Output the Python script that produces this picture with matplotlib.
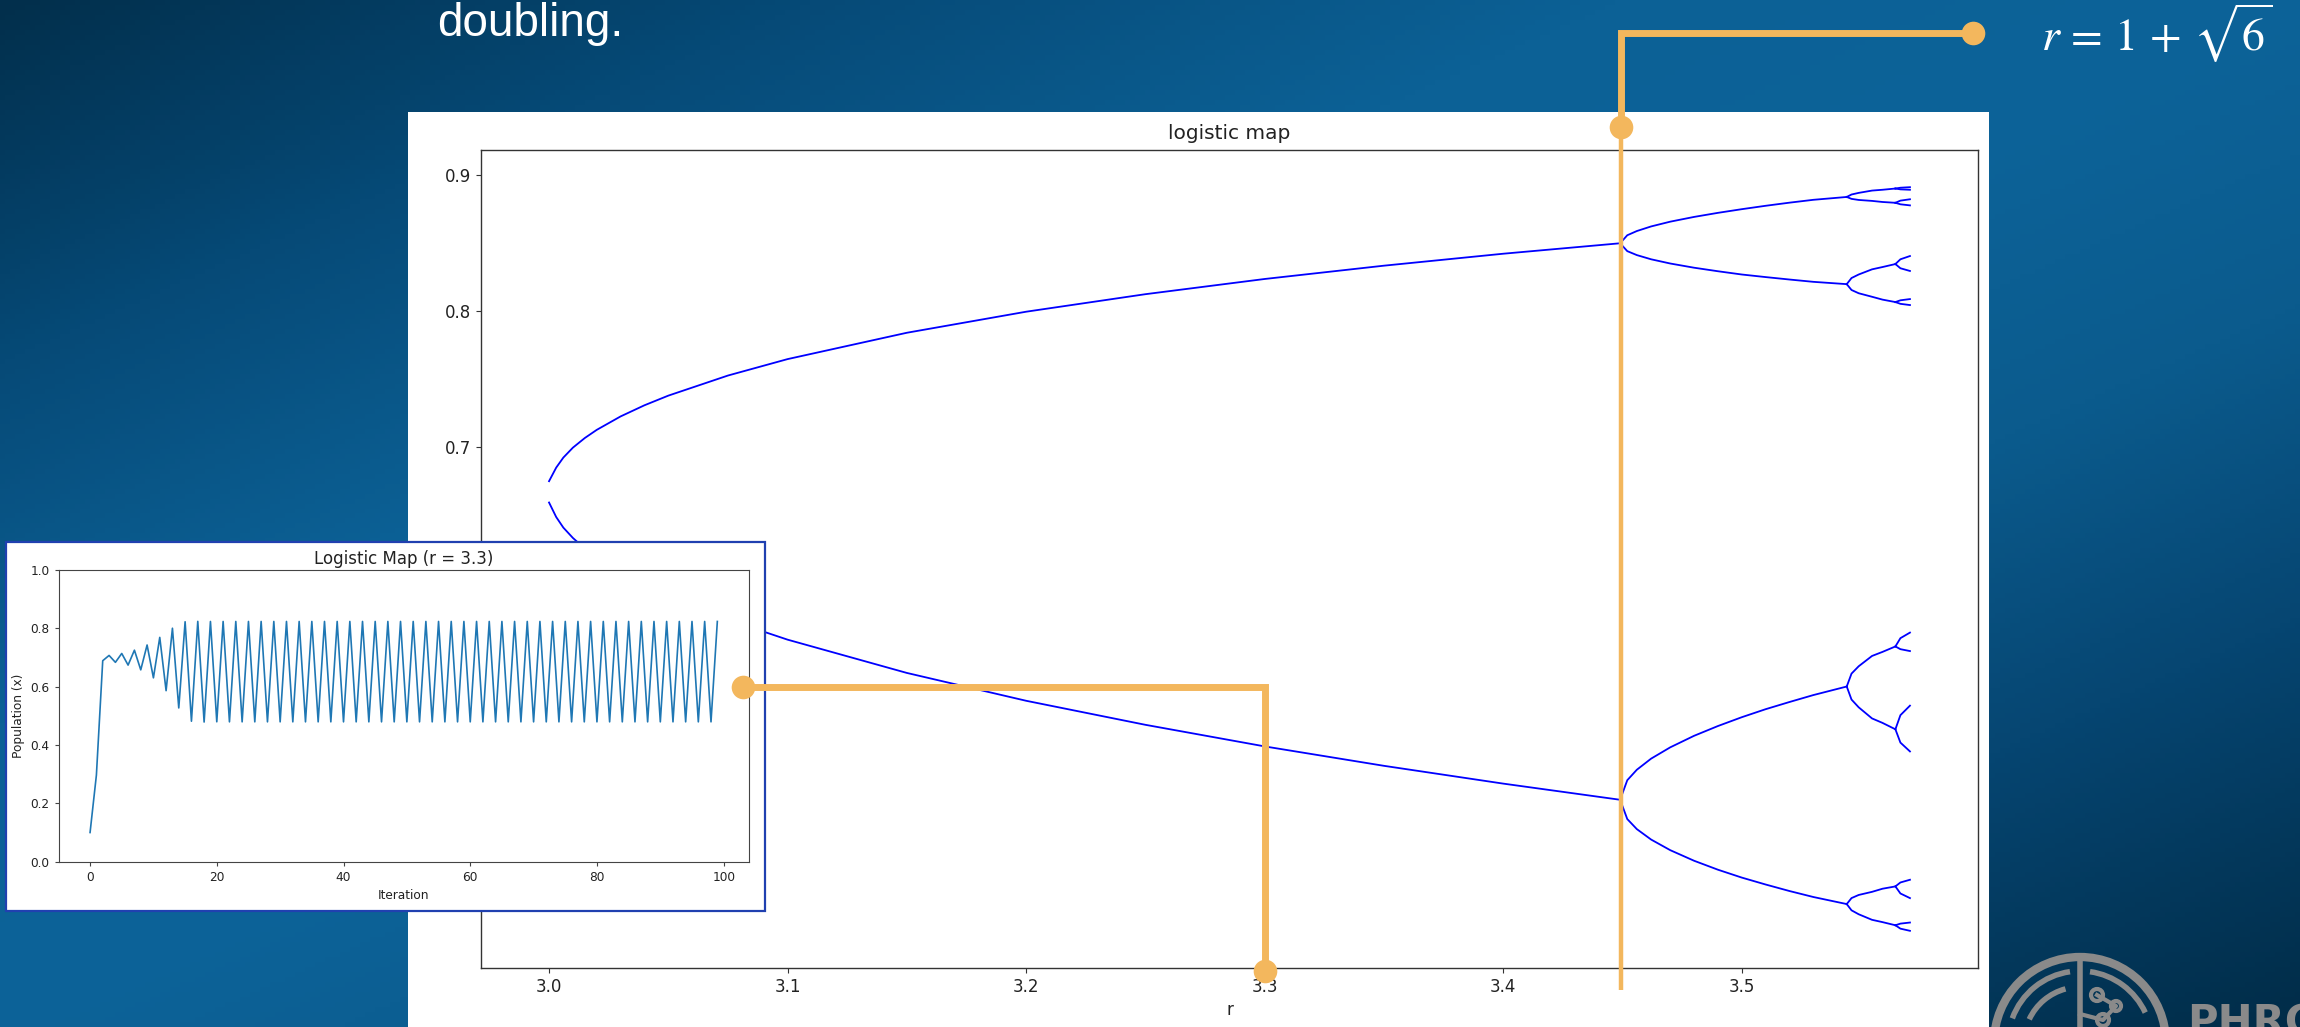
import numpy as np
import matplotlib
matplotlib.use("Agg")
import matplotlib.pyplot as plt
from matplotlib.colors import LinearSegmentedColormap
from matplotlib.patches import Rectangle, Circle, Arc

plt.rcParams["font.family"] = ["DejaVu Sans"]
plt.rcParams["mathtext.fontset"] = "stix"

# bifurcation diagram branches: r values and orbit values read per branch
r_p2 = [3.000, 3.003, 3.006, 3.010, 3.015, 3.020, 3.030, 3.040, 3.050,
        3.075, 3.100, 3.150, 3.200, 3.250, 3.300, 3.350, 3.400, 3.449]
p2_upper = [0.6747, 0.6847, 0.6921, 0.6994, 0.7065, 0.7125, 0.7224, 0.7306, 0.7377,
            0.7525, 0.7646, 0.7840, 0.7995, 0.8124, 0.8236, 0.8334, 0.8422, 0.8499]
p2_lower = [0.6590, 0.6483, 0.6405, 0.6329, 0.6251, 0.6186, 0.6076, 0.5984, 0.5902,
            0.5727, 0.5580, 0.5335, 0.5130, 0.4953, 0.4794, 0.4651, 0.4520, 0.4401]

r_p4 = [3.449, 3.452, 3.456, 3.462, 3.470, 3.480, 3.490, 3.500, 3.510, 3.520, 3.530, 3.544]
p4_a = [0.8499, 0.8558, 0.8589, 0.8623, 0.8658, 0.8693, 0.8723, 0.8750, 0.8775, 0.8798, 0.8819, 0.8840]
p4_b = [0.8499, 0.8441, 0.8412, 0.8381, 0.8350, 0.8319, 0.8293, 0.8269, 0.8250, 0.8232, 0.8215, 0.8198]
p4_c = [0.4401, 0.4545, 0.4622, 0.4704, 0.4787, 0.4872, 0.4944, 0.5009, 0.5068, 0.5121, 0.5172, 0.5235]
p4_d = [0.4401, 0.4259, 0.4185, 0.4108, 0.4030, 0.3952, 0.3886, 0.3828, 0.3777, 0.3729, 0.3685, 0.3633]

r_p8 = [3.544, 3.546, 3.549, 3.5546, 3.559, 3.5644]
p8_a1 = [0.8840, 0.8858, 0.8870, 0.8887, 0.8893, 0.8902]
p8_a2 = [0.8840, 0.8826, 0.8818, 0.8811, 0.8803, 0.8797]
p8_b1 = [0.8198, 0.8243, 0.8269, 0.8307, 0.8324, 0.8346]
p8_b2 = [0.8198, 0.8155, 0.8131, 0.8105, 0.8084, 0.8066]
p8_c1 = [0.5235, 0.5330, 0.5384, 0.5460, 0.5490, 0.5530]
p8_c2 = [0.5235, 0.5139, 0.5082, 0.5000, 0.4967, 0.4920]
p8_d1 = [0.3633, 0.3677, 0.3700, 0.3723, 0.3746, 0.3763]
p8_d2 = [0.3633, 0.3587, 0.3558, 0.3517, 0.3500, 0.3477]

r_p16 = [3.5644, 3.5665, 3.5705]
p16_mid_hi = [0.8908, 0.8813, 0.8381, 0.8079, 0.5591, 0.5024, 0.3792, 0.3489]
p16_mid_lo = [0.8896, 0.8786, 0.8315, 0.8053, 0.5510, 0.4822, 0.3711, 0.3452]
p16_end_hi = [0.8912, 0.8823, 0.8405, 0.8088, 0.5632, 0.5094, 0.3812, 0.3497]
p16_end_lo = [0.8893, 0.8778, 0.8295, 0.8044, 0.5496, 0.4757, 0.3677, 0.3436]

r_crit = 1 + np.sqrt(6)
r_inset = 3.3

# time series of the map at r = 3.3, x0 = 0.1
population_start = [0.1000, 0.2970, 0.6890, 0.7071, 0.6835, 0.7139, 0.6740, 0.7251,
                    0.6577, 0.7429, 0.6303, 0.7690, 0.5863, 0.8004, 0.5271, 0.8226,
                    0.4816, 0.8239, 0.4788, 0.8235, 0.4796, 0.8236, 0.4794, 0.8236]
population_cycle = [0.4794, 0.8236]
population = population_start + population_cycle * 38
iterations = np.arange(len(population))

W, H = 2300, 1027
BLUE = "#0000ff"
ORANGE = "#f3b75d"
LOGO = "#8a8a8a"


def fx(px):
    return px / W


def fy(py):
    return 1 - py / H


fig = plt.figure(figsize=(W / 100, H / 100), dpi=100)

# slide background
bg = fig.add_axes([0, 0, 1, 1], zorder=0)
gx = np.linspace(0, 1, 460)
gy = np.linspace(0, 1, 206)
shade = gx[None, :] + gy[:, None]
slide_cmap = LinearSegmentedColormap.from_list(
    "slide", [(0.0, "#022f4c"), (0.175, "#064a77"), (0.35, "#0c6196"), (0.5, "#0d6399"),
              (0.65, "#0b5b8d"), (0.8, "#064672"), (1.0, "#012c48")])
bg.imshow(shade, cmap=slide_cmap, vmin=0, vmax=2, aspect="auto", extent=(0, 1, 0, 1))
bg.axis("off")

# white card behind the bifurcation plot
fig.add_artist(Rectangle((fx(408), 0), fx(1989) - fx(408), fy(111.5),
                         transform=fig.transFigure, facecolor="white",
                         edgecolor="none", zorder=1))

ax = fig.add_axes([fx(481), fy(968), fx(1978) - fx(481), (968 - 150) / H], zorder=2)


def branch(r, y):
    ax.plot(r, y, color=BLUE, lw=1.3, solid_joinstyle="round")


branch(r_p2, p2_upper)
branch(r_p2, p2_lower)
for ys in (p4_a, p4_b, p4_c, p4_d):
    branch(r_p4, ys)
p8_all = [p8_a1, p8_a2, p8_b1, p8_b2, p8_c1, p8_c2, p8_d1, p8_d2]
for i, ys in enumerate(p8_all):
    branch(r_p8, ys)
    branch(r_p16, [ys[-1], p16_mid_hi[i], p16_end_hi[i]])
    branch(r_p16, [ys[-1], p16_mid_lo[i], p16_end_lo[i]])

ax.set_title("logistic map", fontsize=14.5, pad=8, color="#222222")
ax.set_xlabel("r", fontsize=12, color="#222222")
ax.tick_params(labelsize=12, labelcolor="#222222", color="#333333")
for sp in ax.spines.values():
    sp.set_color("#333333")
    sp.set_linewidth(1.0)

# inset card with the r = 3.3 time series
fig.add_artist(Rectangle((fx(6), fy(911)), fx(765) - fx(6), (911 - 542) / H,
                         transform=fig.transFigure, facecolor="white",
                         edgecolor="#2040b0", lw=1.6, zorder=3))
ins = fig.add_axes([fx(58.7), fy(861.7), (748.7 - 58.7) / W, (861.7 - 570) / H], zorder=4)
ins.plot(iterations, population, color="#1f77b4", lw=1.2)
ins.set_ylim(0, 1)
ins.set_title(f"Logistic Map (r = {r_inset})", fontsize=12, pad=4, color="#222222")
ins.set_xlabel("Iteration", fontsize=8.7, color="#222222")
ins.set_ylabel("Population (x)", fontsize=8.7, color="#222222")
ins.tick_params(labelsize=8.7, length=3, labelcolor="#222222", color="#444444")
for sp in ins.spines.values():
    sp.set_color("#444444")

# callouts in pixel space
ov = fig.add_axes([0, 0, 1, 1], zorder=5)
ov.set_xlim(0, W)
ov.set_ylim(H, 0)
ov.axis("off")

ax.get_xlim()


def px_of(r):
    return ax.transData.transform((r, 0.5))[0]


x_crit = px_of(r_crit)
x_33 = px_of(r_inset)

ov.plot([1973, x_crit, x_crit], [32.7, 32.7, 126.7], color=ORANGE, lw=5,
        solid_joinstyle="miter", solid_capstyle="butt")
ov.plot([x_crit, x_crit], [126.7, 990], color=ORANGE, lw=3.2, solid_capstyle="butt")
ov.plot([1973, x_crit], [32.7, 126.7], "o", ms=17, color=ORANGE, mec="none")

ov.plot([743, x_33, x_33], [686.7, 686.7, 971], color=ORANGE, lw=5,
        solid_joinstyle="miter", solid_capstyle="butt")
ov.plot([743, x_33], [686.7, 971], "o", ms=17, color=ORANGE, mec="none")

# logo, partly off the slide
cx, cy = 2080, 1043
ov.add_patch(Circle((cx, cy), 86, fill=False, ec=LOGO, lw=6))
ov.add_patch(Arc((cx, cy), 144, 144, theta1=200, theta2=262, ec=LOGO, lw=4))
ov.add_patch(Arc((cx, cy), 144, 144, theta1=278, theta2=335, ec=LOGO, lw=4))
ov.add_patch(Arc((cx, cy), 112, 112, theta1=205, theta2=255, ec=LOGO, lw=4))
ov.plot([cx, cx], [958, H], color=LOGO, lw=4)
ov.plot([2097, 2116, 2103, cx], [995, 1006, 1020, 1014], color=LOGO, lw=3)
for nx, ny, nr in [(2097, 995, 6), (2116, 1006, 5), (2103, 1020, 6)]:
    ov.add_patch(Circle((nx, ny), nr, fill=False, ec=LOGO, lw=3))
ov.text(2187, 1036, "PHRC", color=LOGO, fontsize=30, fontweight="bold",
        va="baseline", ha="left")

fig.text(fx(437), fy(36), "doubling.", color="white", fontsize=33,
         family=["Liberation Sans", "DejaVu Sans"], va="baseline", zorder=6)
fig.text(fx(2041), fy(50.7), r"$r\,=\,1\,+\,\sqrt{6}$", color="white", fontsize=33,
         va="baseline", zorder=6)

fig.savefig("out.png", dpi=100)
